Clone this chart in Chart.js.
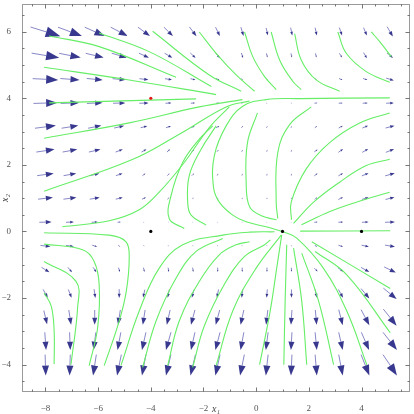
<!DOCTYPE html>
<html>
<head>
<meta charset="utf-8">
<script src="https://cdn.jsdelivr.net/npm/chart.js@4.4.0/dist/chart.umd.min.js"></script>
<style>
  html, body { margin: 0; padding: 0; background: #fff; }
</style>
</head>
<body>
<canvas id="field" width="414" height="414"></canvas>
<script>
// Arrow grid (centres of the vector plot arrows)
const gridX = [-8, -7.07, -6.13, -5.2, -4.26, -3.33, -2.4, -1.46, -0.53, 0.41, 1.34, 2.27, 3.21, 4.14, 5.08];
const gridY = [6, 5.285, 4.57, 3.855, 3.14, 2.425, 1.71, 0.995, 0.28, -0.435, -1.15, -1.865, -2.58, -3.295, -4.01];

// Arrow components, one row per gridY value (right / up)
const arrowU = [
  [30, 24, 20, 17, 12, 9, 7, 4.3, 2.7, 1.7, 1.7, 1.7, 2.7, 3.3, 5.7],
  [27.7, 21.7, 18, 15, 10, 7.7, 5.3, 4.3, 1.7, 1, 1, 1, 2.7, 3.3, 6],
  [25.7, 19.3, 16, 13.3, 9, 7, 5, 3.3, 1.7, 1, 1, 1.5, 3.3, 4.3, 7.7],
  [24, 18.7, 15.7, 12.3, 9.3, 6, 4.3, 3, 1.5, 1, 1, 3, 4, 5, 7.7],
  [21, 16.7, 13.3, 10, 6.7, 5, 3.3, 3.3, 1.7, 1, 1, 2.3, 4, 5.7, 9],
  [18.3, 14.7, 11.7, 7.3, 5, 3, 2.3, 1.5, 0.8, 0.5, 0.5, 3.3, 4.7, 6, 8.3],
  [16.7, 12.7, 9.3, 6.7, 3, 2.3, 2.3, 1, 0.5, 0.3, 0.3, 3.3, 4.7, 6.7, 9.7],
  [15, 13, 10, 7, 4, 2, 1, 0.7, 0.5, 0.3, 0.3, 2.3, 4.7, 6.7, 9],
  [12.3, 8, 6, 3.3, 0.8, 0.5, 0.5, 0.7, 0.7, 0.5, 0.3, 3.3, 4.7, 6.7, 10],
  [10, 8, 5, 2, 0.7, 0.5, 0.5, 0.5, 0.5, 0.3, 0.3, 2.3, 4.7, 7.3, 10],
  [8, 4.3, 3.3, 1.7, 1, 0.7, 0.7, 0, 0, 0, 0.3, 3.3, 5.7, 8.3, 11.7],
  [4.7, 3.3, 1.3, 0, -1.7, -1.7, -2.3, -1.7, -1, -0.7, 0, 1.7, 4.7, 8.3, 13.3],
  [3.3, 2.3, 0, -2.3, -2.3, -3.3, -4, -4, -3.3, -1.7, -1, 1.3, 4, 8.3, 13.3],
  [1.3, 0.7, -2.3, -3.3, -4, -5, -4, -4.7, -3.3, -2.3, -1, 1.7, 4, 7.7, 14],
  [0.7, -0.7, -3.3, -4.3, -4, -5, -5, -4.7, -4.3, -2.3, -1, 1.7, 4, 8.3, 14]
];
const arrowV = [
  [-9.3, -9, -9, -9, -9, -9, -9.5, -9, -9, -7.5, -8, -8, -8, -8, -10],
  [-4.7, -4.3, -4.3, -4.5, -4.5, -4.5, -5, -5.5, -5, -4.3, -4.3, -4.3, -4.3, -5.7, -5],
  [-1.3, -1.5, -1.6, -1.2, -1.2, -1.2, -1.2, -1.7, -1.2, -1, -1, -1.2, -1.7, -1.7, -2.3],
  [0.7, 0.7, 0.7, 0.4, 0.4, 0.4, 0.3, 0.3, 0.3, 0.3, 0.3, 0.3, 0.3, 0.3, 0.3],
  [2.7, 2.7, 2.7, 2.3, 1.7, 1.7, 1.7, 1.7, 1.7, 1.7, 1.7, 1.7, 2.3, 2.3, 2.3],
  [2.7, 2.7, 2.7, 2.7, 2.7, 2.7, 2.5, 2, 2, 2, 2, 2.3, 3.3, 3.3, 3.3],
  [2.3, 2.3, 2.3, 2.3, 2.3, 2.3, 2.3, 2, 2, 2, 2, 2.7, 2.7, 2.7, 2.7],
  [1.7, 1.7, 1.7, 1.7, 1.7, 1.7, 1.5, 1.5, 1.5, 1.5, 1.5, 2.3, 2.3, 2.3, 2.3],
  [0.3, 0.3, 0.3, 0.3, 0.3, 0.3, 0.3, 0.3, 0.3, 0.3, 0.3, 0.3, 0.3, 0.3, 0.3],
  [-1, -1, -1.5, -1.5, -1, -1, -1, -1, -1, -1, -1, -1, -1.5, -1.5, -1.7],
  [-5, -5, -5, -4.3, -4.3, -4.3, -4.3, -4.3, -4.3, -4.3, -4, -3.3, -4, -4.7, -5.7],
  [-8.3, -8.3, -9, -9, -8, -8.3, -8.3, -8.3, -8.3, -8.3, -8.3, -8.3, -8.3, -10, -11],
  [-14, -15, -15, -15, -15, -15, -15, -15, -15, -15, -15, -15, -15.7, -15.7, -16.7],
  [-18, -18, -18, -18, -18, -18, -18, -18, -18, -18, -18, -18, -18, -18, -18],
  [-21, -21, -21, -21, -21, -21, -21, -21, -21, -21, -21, -21, -21, -21, -21]
];

// Stream lines, [x1, x2] pairs
const streamsTop = [
  [[-7.86, 5.87], [-5.96, 5.55], [-3.04, 4.63]],
  [[-5.96, 5.96], [-4.06, 5.40], [-1.70, 4.35]],
  [[-3.93, 6.01], [-1.78, 4.70], [-0.57, 4.21]],
  [[-2.16, 5.99], [-1.52, 5.35], [-0.76, 4.70], [-0.06, 4.21]],
  [[-0.44, 5.99], [-0.13, 5.25], [0.32, 4.65], [0.76, 4.26]],
  [[0.57, 5.99], [0.89, 5.15], [1.39, 4.51], [1.71, 4.26]],
  [[1.46, 5.94], [1.71, 5.15], [2.28, 4.55], [3.17, 4.21]],
  [[3.10, 5.99], [3.42, 5.35], [4.18, 4.80], [5.07, 4.48]],
  [[4.37, 5.99], [4.69, 5.70], [5.13, 5.25]],
  [[-8.05, 4.93], [-4.82, 4.55], [-1.52, 4.11]],
  [[-7.86, 3.86], [-2.28, 3.98]]
];
const streamsMid = [
  [[-8.05, 2.80], [-4.82, 3.26], [-2.16, 3.74], [-0.52, 3.96]],
  [[-8.05, 1.21], [-4.70, 2.16], [-2.92, 2.92], [-1.14, 3.74], [-0.25, 3.92]],
  [[-7.36, 0.14], [-5.58, 0.32], [-4.44, 0.65], [-3.68, 1.18], [-2.73, 2.07], [-1.78, 3.12], [-1.02, 3.74]],
  [[-2.73, 0.09], [-3.30, 0.38], [-3.23, 1.08], [-2.79, 2.07], [-2.16, 2.77], [-1.65, 3.17]],
  [[-1.90, 0.19], [-2.47, 0.49], [-2.60, 0.88], [-2.54, 1.68], [-2.09, 2.47], [-1.52, 3.17]],
  [[1.0, 0], [0.38, 0.14], [-0.38, 0.29], [-0.89, 0.49], [-1.40, 0.88], [-1.62, 1.33], [-1.59, 2.27],
   [-1.14, 3.17], [-0.51, 3.76], [0.38, 3.96], [1.65, 3.99], [5.07, 4.01]],
  [[0.05, 3.56], [-0.33, 2.67], [-0.38, 1.48], [-0.25, 0.74], [0.2, 0.47], [0.77, 0.35]],
  [[0.82, 0.39], [0.76, 0.88], [0.82, 2.37], [1.27, 3.21], [2.09, 3.74]],
  [[1.34, 0.35], [1.33, 0.88], [1.90, 1.88], [2.79, 2.67], [3.93, 3.26], [5.07, 3.56]],
  [[1.42, 0.24], [2.18, 0.88], [3.17, 1.48], [4.18, 1.98], [5.07, 2.17]],
  [[1.72, 0.2], [2.8, 0.6], [3.8, 0.88], [5.07, 1.18]]
];
const streamsLow = [
  [[-8.05, -0.04], [-5.58, -0.11], [-4.94, -0.31], [-4.82, -0.80], [-4.93, -1.79], [-5.2, -2.69], [-5.77, -4.03]],
  [[-8.05, -0.38], [-6.59, -0.55], [-6.15, -0.90], [-5.96, -1.60], [-6.02, -2.9], [-6.34, -4.03]],
  [[-8.05, -0.90], [-6.84, -1.50], [-6.78, -2.29], [-7.03, -4.0]],
  [[-8.05, -1.85], [-7.78, -2.24], [-7.67, -2.99], [-7.67, -3.98]],
  [[-5.13, -4.02], [-4.44, -2.39], [-3.68, -1.10], [-2.79, -0.40], [-1.27, -0.11], [-0.25, -0.02], [0.7, -0.01]],
  [[-4.31, -4.08], [-3.8, -2.69], [-3.04, -1.40], [-2.28, -0.60], [-1.27, -0.21]],
  [[-3.36, -4.03], [-2.92, -2.69], [-2.16, -1.5], [-1.40, -0.70], [-0.76, -0.40], [-0.25, -0.31]],
  [[-2.41, -4.08], [-1.97, -2.84], [-1.21, -1.59], [-0.44, -0.75], [0.32, -0.40], [0.54, -0.25]],
  [[-1.52, -4.03], [-0.89, -2.39], [0.0, -1.10], [0.95, -0.11]],
  [[0.97, -0.1], [0.78, -1.1], [0.53, -2.4], [0.13, -4.0]],
  [[1.16, -0.4], [1.10, -2.09], [1.05, -4.0]],
  [[1.42, -0.5], [1.73, -2.09], [1.92, -4.0]],
  [[1.73, -0.65], [2.37, -2.09], [2.94, -4.0]],
  [[1.0, 0], [1.54, -0.2], [2.55, -1.1], [3.44, -2.39], [4.2, -4.0]],
  [[2.24, -0.60], [3.44, -1.30], [5.09, -3.04]],
  [[2.11, -0.31], [5.09, -1.71]],
  [[1.67, 0.01], [5.09, 0.02]]
];

// Marked points
const fixedPoints = [[-4, 0], [1, 0], [4, 0]];
const redPoint = [[-4, 4]];

// Tick labels
const xTickLabels = [-8, -6, -4, -2, 0, 2, 4];
const yTickLabels = [-4, -2, 0, 2, 4, 6];

// field units -> axis units for the arrow lengths
const fieldScaleX = 0.0378;
const fieldScaleY = 0.0297;

const serif = '"Liberation Serif", "DejaVu Serif", serif';
const toPts = (arr) => arr.map(p => ({ x: p[0], y: p[1] }));
const fmt = (v) => (v < 0 ? '\u2212' + Math.abs(v) : String(v));

const drawArrow = (ctx, x0, y0, x1, y1) => {
  const len = Math.hypot(x1 - x0, y1 - y0);
  if (len < 0.3) return;
  const ux = (x1 - x0) / len, uy = (y1 - y0) / len;
  const hl = len * 0.47, hw = len * 0.17;
  const bx = x1 - ux * hl, by = y1 - uy * hl;
  ctx.strokeStyle = 'rgba(85,85,175,0.7)';
  ctx.lineWidth = 1;
  ctx.beginPath();
  ctx.moveTo(x0, y0);
  ctx.lineTo(bx, by);
  ctx.stroke();
  ctx.fillStyle = '#38388f';
  ctx.beginPath();
  ctx.moveTo(x1, y1);
  ctx.lineTo(bx - uy * hw, by + ux * hw);
  ctx.lineTo(bx + uy * hw, by - ux * hw);
  ctx.closePath();
  ctx.fill();
};

// vector arrows under the stream lines
const arrowLayer = {
  id: 'arrowLayer',
  beforeDatasetsDraw(chart) {
    const { ctx, chartArea, scales: { x, y } } = chart;
    ctx.save();
    ctx.beginPath();
    ctx.rect(chartArea.left, chartArea.top, chartArea.width, chartArea.height);
    ctx.clip();
    gridY.forEach((gy, r) => {
      gridX.forEach((gx, c) => {
        const du = arrowU[r][c] * fieldScaleX / 2;
        const dv = arrowV[r][c] * fieldScaleY / 2;
        drawArrow(ctx,
          x.getPixelForValue(gx - du), y.getPixelForValue(gy - dv),
          x.getPixelForValue(gx + du), y.getPixelForValue(gy + dv));
      });
    });
    ctx.restore();
  }
};

// Mathematica-like frame with inward ticks on all four sides
const frameLayer = {
  id: 'frameLayer',
  afterDatasetsDraw(chart) {
    const { ctx, chartArea: a, scales: { x, y } } = chart;
    ctx.save();
    ctx.strokeStyle = '#9a9a9a';
    ctx.lineWidth = 1;
    ctx.strokeRect(a.left + 0.5, a.top + 0.5, a.width - 1, a.height - 1);
    ctx.strokeStyle = '#777';
    ctx.beginPath();
    x.ticks.forEach(t => {
      const px = Math.round(x.getPixelForValue(t.value)) + 0.5;
      const len = xTickLabels.includes(t.value) ? 4.5 : 2.5;
      ctx.moveTo(px, a.bottom); ctx.lineTo(px, a.bottom - len);
      ctx.moveTo(px, a.top); ctx.lineTo(px, a.top + len);
    });
    y.ticks.forEach(t => {
      const py = Math.round(y.getPixelForValue(t.value)) + 0.5;
      const len = yTickLabels.includes(t.value) ? 4.5 : 2.5;
      ctx.moveTo(a.left, py); ctx.lineTo(a.left + len, py);
      ctx.moveTo(a.right, py); ctx.lineTo(a.right - len, py);
    });
    ctx.stroke();
    ctx.restore();
  }
};

const streamSet = (pts) => ({
  data: toPts(pts),
  showLine: true,
  borderColor: '#66ee66',
  borderWidth: 1.1,
  pointRadius: 0,
  tension: 0.4,
  fill: false
});

const datasets = [
  { data: toPts(redPoint), pointRadius: 1.6, pointBackgroundColor: '#e01818', pointBorderWidth: 0, showLine: false },
  { data: toPts(fixedPoints), pointRadius: 1.6, pointBackgroundColor: '#000', pointBorderWidth: 0, showLine: false },
  ...streamsTop.map(streamSet),
  ...streamsMid.map(streamSet),
  ...streamsLow.map(streamSet)
];

new Chart(document.getElementById('field'), {
  type: 'scatter',
  data: { datasets },
  plugins: [arrowLayer, frameLayer],
  options: {
    responsive: false,
    animation: false,
    layout: { padding: { top: 0, right: 2, bottom: 0, left: 0 } },
    plugins: { legend: { display: false }, tooltip: { enabled: false } },
    scales: {
      x: {
        type: 'linear',
        min: -8.89,
        max: 5.84,
        grid: { display: false },
        border: { display: false },
        ticks: {
          stepSize: 0.5,
          includeBounds: false,
          autoSkip: false,
          maxRotation: 0,
          padding: 3,
          color: '#555',
          font: { family: serif, size: 9 },
          callback: (v) => (xTickLabels.includes(v) ? fmt(v) : '')
        },
        title: {
          display: true,
          text: 'x\u2081',
          color: '#444',
          padding: 0,
          font: { family: serif, size: 10, style: 'italic', lineHeight: 1 }
        },
        afterFit: (s) => { s.height = 22; s.paddingLeft = 0; s.paddingRight = 0; }
      },
      y: {
        type: 'linear',
        min: -4.82,
        max: 6.83,
        grid: { display: false },
        border: { display: false },
        ticks: {
          stepSize: 0.5,
          includeBounds: false,
          autoSkip: false,
          padding: 3,
          color: '#555',
          font: { family: serif, size: 9 },
          callback: (v) => (yTickLabels.includes(v) ? fmt(v) : '')
        },
        title: {
          display: true,
          text: 'x\u2082',
          color: '#444',
          padding: 0,
          font: { family: serif, size: 10, style: 'italic', lineHeight: 1 }
        },
        afterFit: (s) => { s.width = 22; s.paddingTop = 0; s.paddingBottom = 0; }
      }
    }
  }
});
</script>
</body>
</html>
